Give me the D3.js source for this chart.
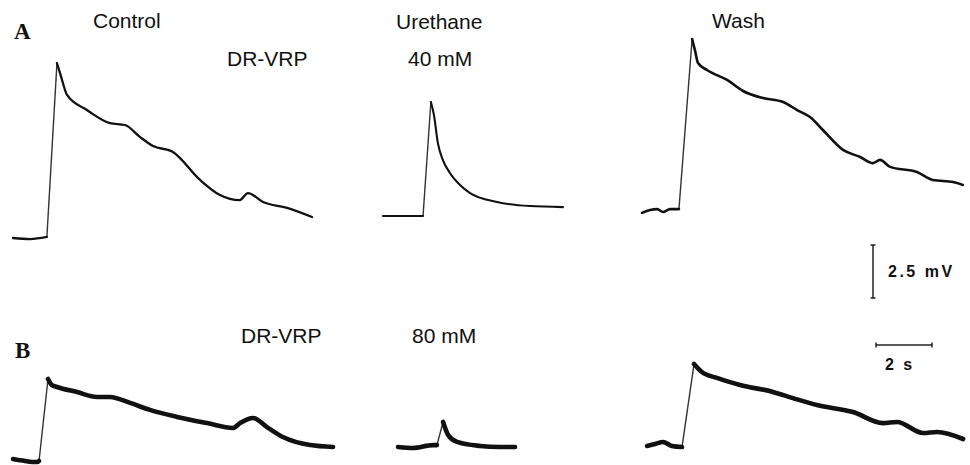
<!DOCTYPE html>
<html>
<head>
<meta charset="utf-8">
<script src="https://cdn.jsdelivr.net/npm/d3@7"></script>
<style>
  body { margin: 0; background: #fff; }
  .label { font-family: "Liberation Sans", Arial, sans-serif; font-size: 21px; fill: #111; }
  .panel { font-family: "Liberation Serif", "Times New Roman", serif; font-size: 23px; font-weight: bold; fill: #111; }
  .bar-label { font-family: "Liberation Sans", Arial, sans-serif; font-size: 16px; font-weight: bold; letter-spacing: 2.5px; fill: #111; }
</style>
</head>
<body>
<div id="chart"></div>
<script>
// Traces: [time (s), voltage above baseline (mV)]
const controlA = [[0,0],[0.61,-0.05],[1.21,0.05],[1.57,8.25],[1.68,7.78],[1.93,6.75],[2.64,6.04],
  [3.46,5.42],[4.0,5.33],[4.54,4.76],[5.0,4.34],[5.71,4.06],[6.68,2.74],[7.39,2.03],[8.1,1.79],
  [8.39,2.12],[8.93,1.70],[9.79,1.42],[10.68,0.99]];
const urethane40 = [[0,0],[1.43,0],[1.71,5.38],[1.82,4.76],[1.96,3.44],[2.14,2.64],[2.39,2.03],
  [2.75,1.46],[3.11,1.08],[4.07,0.66],[5.25,0.47],[6.43,0.42]];
const washA = [[0,-0.09],[0.29,0.05],[0.54,0.09],[0.75,-0.05],[1.0,0.09],[1.32,0.09],[1.79,8.11],
  [1.89,7.59],[2.0,6.98],[2.32,6.65],[3.04,6.18],[3.61,5.66],[4.32,5.33],[5.04,5.14],[5.54,4.76],
  [6.0,4.43],[6.46,3.82],[7.18,2.88],[7.79,2.55],[8.25,2.26],[8.5,2.41],[8.86,2.08],[9.82,1.84],
  [10.39,1.46],[11.11,1.37],[11.46,1.23]];
const controlB = [[0,0.09],[0.43,0],[0.86,-0.05],[0.93,0],[1.25,3.87],[1.39,3.58],[1.57,3.49],
  [2.29,3.25],[3.0,3.02],[3.46,3.02],[4.18,2.74],[4.89,2.41],[5.86,2.08],[6.93,1.79],[7.86,1.56],
  [8.11,1.79],[8.57,2.03],[9.07,1.60],[9.64,1.13],[10.61,0.75],[11.43,0.66]];
const urethane80 = [[0,0],[0.54,-0.05],[1.25,0.09],[1.39,0.09],[1.61,1.18],[1.79,0.57],[2.11,0.24],
  [2.93,0.05],[3.64,0],[4.18,0]];
const washB = [[0,0],[0.29,0.09],[0.57,0.19],[0.89,0],[1.25,-0.05],[1.68,3.87],[1.96,3.49],[2.5,3.21],
  [3.32,2.88],[4.5,2.55],[5.21,2.26],[6.07,1.93],[7.36,1.60],[8.43,1.08],[8.93,1.13],[9.86,0.61],
  [10.36,0.66],[11.29,0.33]];

const columnTitles = ["Control", "Urethane", "Wash"];
const rowLabels = ["A", "B"];
const prepLabel = "DR-VRP";
const doseLabels = ["40 mM", "80 mM"];
const scaleBarV = 2.5;   // mV
const scaleBarT = 2;     // s

const width = 970, height = 465;

const svg = d3.select("#chart")
  .append("svg")
  .attr("width", width)
  .attr("height", height);

// shared scales: 28 px per second, ~21 px per mV
const x = d3.scaleLinear().domain([0, 2]).range([0, 56]);
const y = d3.scaleLinear().domain([0, 2.5]).range([0, -53]);

const line = d3.line()
  .x(d => x(d[0]))
  .y(d => y(d[1]))
  .curve(d3.curveMonotoneX);

// each trace: data, origin (left, baseline), stroke width
const traces = [
  { data: controlA,   ox: 13,  oy: 238, w: 2.3 },
  { data: urethane40, ox: 383, oy: 216, w: 2.1 },
  { data: washA,      ox: 642, oy: 211, w: 2.6 },
  { data: controlB,   ox: 13,  oy: 461, w: 4.6 },
  { data: urethane80, ox: 398, oy: 447, w: 4.6 },
  { data: washB,      ox: 647, oy: 446, w: 4.6 }
];

traces.forEach(t => {
  const g = svg.append("g").attr("transform", `translate(${t.ox},${t.oy})`);
  const iMax = d3.maxIndex(t.data, d => d[1]);
  // thin rising phase
  g.append("path")
    .attr("d", d3.line().x(d => x(d[0])).y(d => y(d[1]))(t.data.slice(iMax - 1, iMax + 1)))
    .attr("fill", "none")
    .attr("stroke", "#333")
    .attr("stroke-width", 1.4);
  // baseline and decay
  [t.data.slice(0, iMax), t.data.slice(iMax)].forEach(seg => {
    g.append("path")
      .attr("d", line(seg))
      .attr("fill", "none")
      .attr("stroke", "#111")
      .attr("stroke-width", t.w)
      .attr("stroke-linejoin", "round")
      .attr("stroke-linecap", "round");
  });
});

// Titles
svg.append("text").attr("class", "label").attr("x", 93).attr("y", 28).text(columnTitles[0]);
svg.append("text").attr("class", "label").attr("x", 396).attr("y", 29).text(columnTitles[1]);
svg.append("text").attr("class", "label").attr("x", 712).attr("y", 28).text(columnTitles[2]);

svg.append("text").attr("class", "panel").attr("x", 14).attr("y", 39).text(rowLabels[0]);
svg.append("text").attr("class", "panel").attr("x", 15).attr("y", 358).text(rowLabels[1]);

svg.append("text").attr("class", "label").attr("x", 227).attr("y", 66).text(prepLabel);
svg.append("text").attr("class", "label").attr("x", 408).attr("y", 66).text(doseLabels[0]);
svg.append("text").attr("class", "label").attr("x", 241).attr("y", 343).text(prepLabel);
svg.append("text").attr("class", "label").attr("x", 412).attr("y", 343).text(doseLabels[1]);

// Scale bars
const bars = svg.append("g").attr("stroke", "#222").attr("stroke-width", 1.5);
const vx = 873, vy = 298;
bars.append("line").attr("x1", vx).attr("x2", vx).attr("y1", vy).attr("y2", vy + y(scaleBarV));
[vy, vy + y(scaleBarV)].forEach(yy => {
  bars.append("line").attr("x1", vx - 2.5).attr("x2", vx + 2.5).attr("y1", yy).attr("y2", yy);
});
const hx = 876, hy = 345;
bars.append("line").attr("x1", hx).attr("x2", hx + x(scaleBarT)).attr("y1", hy).attr("y2", hy);
[hx, hx + x(scaleBarT)].forEach(xx => {
  bars.append("line").attr("x1", xx).attr("x2", xx).attr("y1", hy - 2.5).attr("y2", hy + 2.5);
});

svg.append("text").attr("class", "bar-label").attr("x", 888).attr("y", 277).text(`${scaleBarV} mV`);
svg.append("text").attr("class", "bar-label").attr("x", 885).attr("y", 370).text(`${scaleBarT} s`);
</script>
</body>
</html>
